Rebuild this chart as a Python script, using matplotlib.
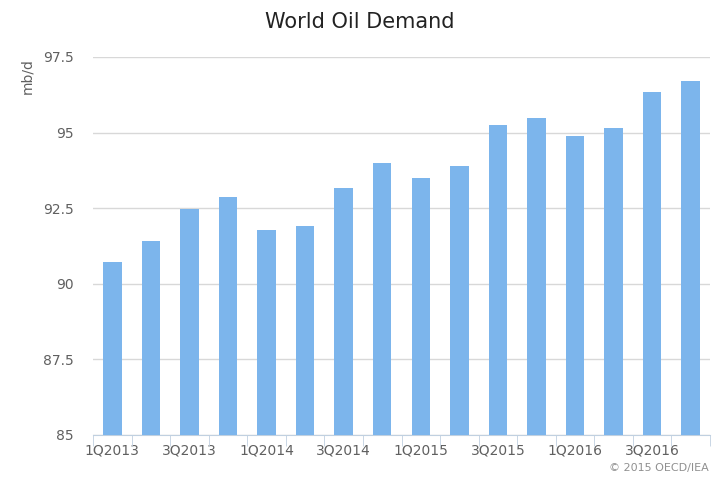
import matplotlib
matplotlib.use("Agg")
import matplotlib.pyplot as plt

categories = [f"{q}Q{y}" for y in range(2013, 2017) for q in range(1, 5)]
values = [90.72, 91.42, 92.47, 92.87, 91.78, 91.91, 93.17, 93.99,
          93.5, 93.9, 95.25, 95.48, 94.89, 95.15, 96.34, 96.7]
yticks = [85, 87.5, 90, 92.5, 95, 97.5]
ytick_labels = ["85", "87.5", "90", "92.5", "95", "97.5"]

fig = plt.figure(figsize=(7.2, 4.8), dpi=100)
ax = fig.add_axes([93/720, 45/480, (710-93)/720, (435-57)/480])
x = list(range(len(categories)))
ax.bar(x, values, width=0.48, color="#7cb5ec", zorder=3)
ax.set_ylim(85, 97.5)
ax.set_xlim(-0.5, len(categories) - 0.5)
ax.set_yticks(yticks)
ax.set_yticklabels(ytick_labels, color="#606060", fontsize=10)
ax.set_xticks(x[::2])
ax.set_xticklabels(categories[::2], color="#606060", fontsize=10)
ax.set_xticks([i - 0.5 for i in range(len(categories) + 1)], minor=True)
ax.tick_params(axis="x", which="major", length=0, pad=6)
ax.tick_params(axis="x", which="minor", length=8, color="#c0d0e0")
ax.tick_params(axis="y", length=0, pad=14)
ax.grid(axis="y", color="#d8d8d8", linewidth=1, zorder=0)
for s in ["top", "right", "left"]:
    ax.spines[s].set_visible(False)
ax.spines["bottom"].set_color("#c0d0e0")
ax.set_ylabel("mb/d", color="#606060", fontsize=10, labelpad=8)
ax.yaxis.set_label_coords(-0.095, 0.95)
fig.text(0.5, 0.955, "World Oil Demand", ha="center", va="center", fontsize=15, color="#222222")
fig.text(0.985, 0.025, "© 2015 OECD/IEA", ha="right", va="center", fontsize=8, color="#909090")
fig.savefig("out.png", dpi=100)
